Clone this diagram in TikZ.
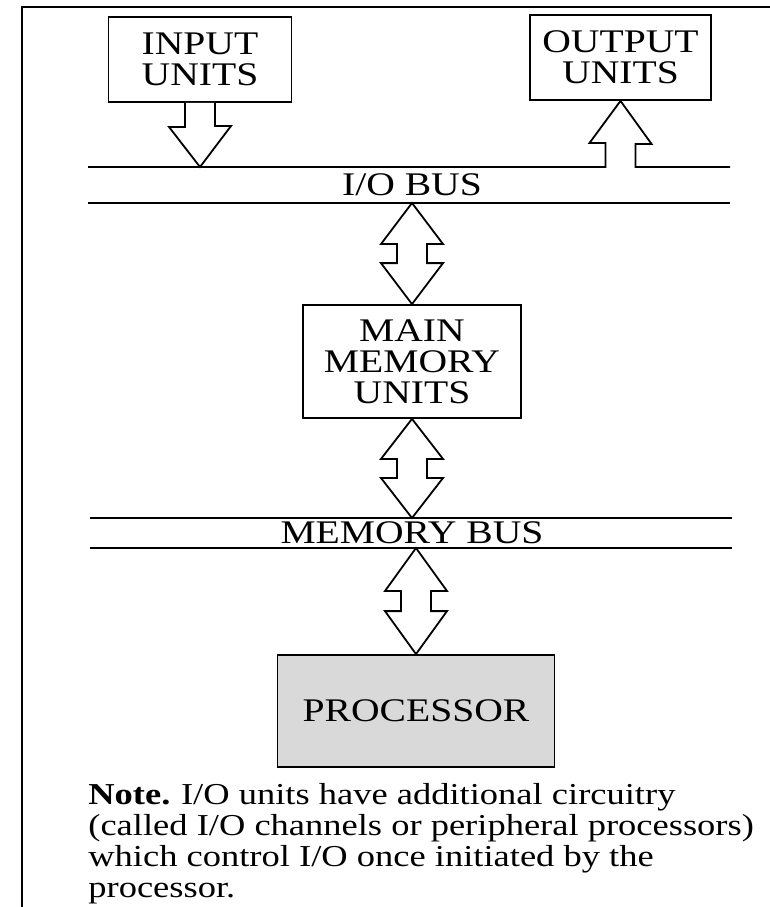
\documentclass[tikz,border=0pt]{standalone}
\usepackage{fontspec}
\setmainfont{Liberation Serif}[FakeStretch=1.2]
\usetikzlibrary{positioning,calc}
\tikzset{
  unitbox/.style={
    draw,
    rectangle,
    line width=0.9pt,
    inner sep=0pt,
    align=center
  },
  busline/.style={line width=0.9pt},
  blockarrow/.style={line width=0.9pt, line join=miter, fill=white}
}
\begin{document}
\begin{tikzpicture}[
    x=0.5pt, y=-0.5pt,
    every node/.style={font=\fontsize{16.5}{15.5}\selectfont},
    cpubox/.style={unitbox, fill=black!15},
    buslabel/.style={inner sep=0pt}
]
\useasboundingbox (0,0) rectangle (770,907);
\draw[busline] (22,907) -- (22,7) -- (770,7);

\node[unitbox, minimum width=91.5pt, minimum height=42.5pt] (inp) at (200,59.5) {INPUT\\UNITS};
\node[unitbox, minimum width=90.5pt, minimum height=42.5pt] (out) at (620.5,57.5) {OUTPUT\\UNITS};
\node[unitbox, minimum width=109pt, minimum height=56.5pt] (mem) at (412,361.5) {MAIN\\MEMORY\\UNITS};
\node[cpubox, minimum width=138.5pt, minimum height=56pt] (cpu) at (416,711) {PROCESSOR};

\node[buslabel] (iobus) at (412,185) {I/O BUS};
\node[buslabel] (membus) at (412,533) {MEMORY BUS};

\coordinate (iotopL) at (88,167);
\coordinate (iotopR) at (730,167);
\coordinate (iobotL) at (88,203);
\coordinate (iobotR) at (730,203);
\coordinate (memtopL) at (90,518);
\coordinate (memtopR) at (732,518);
\coordinate (membotL) at (90,548);
\coordinate (membotR) at (732,548);

% buses
\draw[busline] (iobotL) -- (iobotR);
\draw[busline] (memtopL) -- (memtopR);
\draw[busline] (membotL) -- (membotR);
\draw[busline] (iotopL) -- ($(out.south |- iotopL)+(-15,0)$) -- ++(0,-24) -- ++(-16,0)
    -- (out.south) -- ++(31,43) -- ++(-16,0) -- ($(out.south |- iotopL)+(15,0)$) -- (iotopR);

% input arrow
\draw[blockarrow] ($(inp.south)+(-15,0)$) -- ++(0,24) -- ++(-16,0) -- (inp.south |- iotopL)
    -- ++(31,-41) -- ++(-16,0) -- ($(inp.south)+(15,0)$);

% two-way arrows
\draw[blockarrow] (mem.north |- iobotL) -- ++(31,41) -- ++(-16,0) -- ($(mem.north)+(15,-41)$)
    -- ++(16,0) -- (mem.north) -- ++(-31,-41) -- ++(16,0) -- ($(mem.north |- iobotL)+(-15,41)$)
    -- ++(-16,0) -- cycle;
\draw[blockarrow] (mem.south) -- ++(31,40) -- ++(-16,0) -- ($(mem.south |- memtopL)+(15,-40)$)
    -- ++(16,0) -- (mem.south |- memtopL) -- ++(-31,-40) -- ++(16,0) -- ($(mem.south)+(-15,40)$)
    -- ++(-16,0) -- cycle;
\draw[blockarrow] (cpu.north |- membotL) -- ++(31,43) -- ++(-16,0) -- ($(cpu.north)+(15,-43)$)
    -- ++(16,0) -- (cpu.north) -- ++(-31,-43) -- ++(16,0) -- ($(cpu.north |- membotL)+(-15,43)$)
    -- ++(-16,0) -- cycle;

\node[anchor=base west, inner sep=0pt, align=left, font=\fontsize{15.2}{15.5}\selectfont] (note) at (88,897)
    {\textbf{Note.}\hspace{0.35em}I/O units have additional circuitry\\
     (called I/O channels or peripheral processors)\\
     which control I/O once initiated by the\\
     processor.};
\end{tikzpicture}
\end{document}
